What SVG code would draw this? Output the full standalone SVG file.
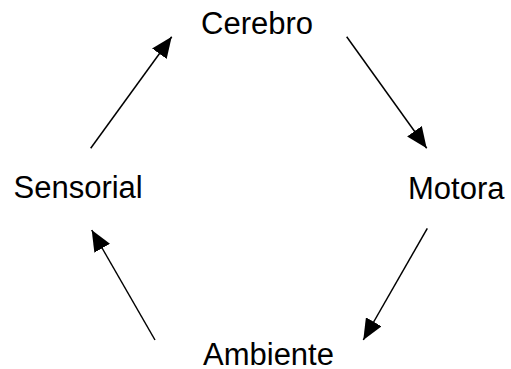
<svg xmlns="http://www.w3.org/2000/svg" width="511" height="369" viewBox="0 0 511 369">
<style>
text{font-family:"Liberation Sans",Arial,sans-serif;font-size:31px;fill:#000}
.c{stroke:#000;stroke-width:1.5;fill:none}
</style>
<defs>
<marker id="ah" markerUnits="userSpaceOnUse" markerWidth="22" markerHeight="18" refX="21" refY="9" orient="auto">
<path d="M0,0 L21,9 L0,18 z" fill="#000"/>
</marker>
</defs>
<rect width="511" height="369" fill="#fff"/>
<g id="cerebro"><text x="201" y="34">Cerebro</text></g>
<g id="motora"><text x="408" y="199">Motora</text></g>
<g id="ambiente"><text x="203" y="365">Ambiente</text></g>
<g id="sensorial"><text x="13.5" y="198">Sensorial</text></g>
<g id="connectors">
<line class="c" x1="346.7" y1="36.7" x2="426.7" y2="148.3" marker-end="url(#ah)"/>
<line class="c" x1="427.3" y1="228.3" x2="363.3" y2="340" marker-end="url(#ah)"/>
<line class="c" x1="155" y1="340" x2="91.7" y2="230" marker-end="url(#ah)"/>
<line class="c" x1="90.7" y1="148.3" x2="171.7" y2="36.7" marker-end="url(#ah)"/>
</g>
</svg>
